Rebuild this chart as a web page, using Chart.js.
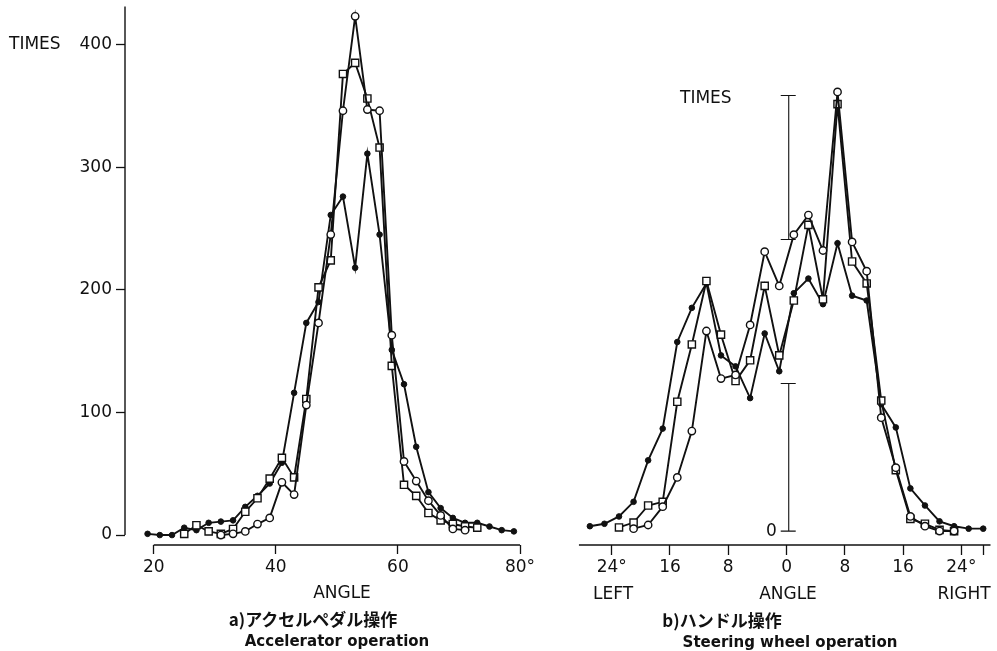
<!DOCTYPE html>
<html>
<head>
<meta charset="utf-8">
<script src="https://cdn.jsdelivr.net/npm/chart.js@4.4.0/dist/chart.umd.min.js"></script>
<style>
  body { margin: 0; background: #fff; }
  #wrap { position: relative; width: 997px; height: 651px; overflow: hidden; font-family: 'DejaVu Sans', sans-serif; color: #111; }
  canvas { position: absolute; top: 0; }
  #accel { left: 0; }
  #steer { left: 560px; }
  .t { position: absolute; white-space: nowrap; line-height: 20px; height: 20px; font-size: 17px; }
  .c { transform: translateX(-50%); }
  .jp { font-family: 'Noto Sans CJK JP', sans-serif; font-weight: 700; font-size: 17px; }
  .en { font-weight: 700; font-size: 15px; }
</style>
</head>
<body>
<div id="wrap">
  <canvas id="accel" width="542" height="651"></canvas>
  <canvas id="steer" width="437" height="651"></canvas>

  <div class="t" style="left:9px; top:33px;">TIMES</div>
  <div class="t c" style="left:342px; top:582px;">ANGLE</div>
  <div class="t c jp" style="left:313px; top:609px;">a)アクセルペダル操作</div>
  <div class="t c en" style="left:337px; top:631px;">Accelerator operation</div>

  <div class="t" style="left:680px; top:87px;">TIMES</div>
  <div class="t c" style="left:613px; top:583px;">LEFT</div>
  <div class="t c" style="left:788px; top:583px;">ANGLE</div>
  <div class="t c" style="left:964px; top:583px;">RIGHT</div>
  <div class="t c jp" style="left:722px; top:610px;">b)ハンドル操作</div>
  <div class="t c en" style="left:790px; top:632px;">Steering wheel operation</div>
</div>

<script>
// a) accelerator pedal, angle in degrees
const accelAngle = [19,21,23,25,27,29,31,33,35,37,39,41,43,45,47,49,51,53,55,57,59,61,63,65,67,69,71,73,75,77,79];
const accelDots = [1,0,0,6,4,10,11,12,23,32,42,59,116,173,190,261,276,218,311,245,151,123,72,35,22,14,10,10,7,4,3];
const accelRings = [null,null,null,null,null,null,0,1,3,9,14,43,33,106,173,245,346,423,347,346,163,60,44,28,16,5,4,null,null,null,null];
const accelSquares = [null,null,null,1,8,3,1,5,19,30,46,63,47,111,202,224,376,385,356,316,138,41,32,18,12,9,7,6,null,null,null];
const accelTicksX = [20,40,60,80];
const accelTicksY = [0,100,200,300,400];

// b) steering wheel, negative = left
const steerAngle = [-27,-25,-23,-21,-19,-17,-15,-13,-11,-9,-7,-5,-3,-1,1,3,5,7,9,11,13,15,17,19,21,23,25,27];
const steerDots = [4,6,12,24,58,84,155,183,203,144,135,109,162,131,195,207,186,236,193,189,104,85,35,21,8,4,2,2];
const steerRings = [null,null,null,2,5,20,44,82,164,125,128,169,229,201,243,259,230,360,237,213,93,52,12,4,0,0,null,null];
const steerSquares = [null,null,3,7,21,24,106,153,205,161,123,140,201,144,189,251,190,350,221,203,107,50,10,6,1,0,null,null];
const steerTicksX = [-24,-16,-8,0,8,16,24,27];

const INK = '#111';

function pts(xs, ys) {
    return xs.map((x, i) => ({ x, y: ys[i] }));
}

function makeSets(xs, dots, rings, squares) {
    const base = { borderColor: INK, borderWidth: 1.9, tension: 0, pointBorderColor: INK };
    return [
        { ...base, data: pts(xs, rings), pointStyle: 'circle', pointRadius: 3.7, pointBackgroundColor: '#fff', pointBorderWidth: 1.4 },
        { ...base, data: pts(xs, squares), pointStyle: 'rect', pointRadius: 5.1, pointBackgroundColor: '#fff', pointBorderWidth: 1.4 },
        { ...base, data: pts(xs, dots), pointStyle: 'circle', pointRadius: 2.8, pointBackgroundColor: INK, pointBorderWidth: 1 }
    ];
}

const tickFont = { family: 'DejaVu Sans', size: 17 };

// keep chart area where the figure has it (no label overhang padding)
function noPad(s) {
    s.paddingTop = 0;
    s.paddingBottom = 0;
}

// detached axis lines like the printed figure
const accelAxes = {
    id: 'accelAxes',
    afterDraw(chart) {
        const { ctx, chartArea, scales: { x, y } } = chart;
        ctx.save();
        ctx.strokeStyle = INK;
        ctx.lineWidth = 1.4;
        ctx.beginPath();
        ctx.moveTo(chartArea.left, y.getPixelForValue(0));
        ctx.lineTo(chartArea.left, chartArea.top);
        ctx.moveTo(x.getPixelForValue(accelTicksX[0]), chartArea.bottom);
        ctx.lineTo(x.getPixelForValue(accelTicksX[accelTicksX.length - 1]), chartArea.bottom);
        ctx.stroke();
        ctx.restore();
    }
};

const steerAxes = {
    id: 'steerAxes',
    afterDraw(chart) {
        const { ctx, chartArea, scales: { x, y } } = chart;
        ctx.save();
        ctx.strokeStyle = INK;
        ctx.lineWidth = 1.4;
        ctx.beginPath();
        ctx.moveTo(x.getPixelForValue(-28.5), chartArea.bottom);
        ctx.lineTo(chartArea.right, chartArea.bottom);
        ctx.stroke();

        // broken "TIMES" scale bar
        const xb = x.getPixelForValue(0.3);
        ctx.lineWidth = 1.1;
        [[0, 121], [239, 357]].forEach(seg => {
            const y0 = y.getPixelForValue(seg[0]);
            const y1 = y.getPixelForValue(seg[1]);
            ctx.beginPath();
            ctx.moveTo(xb, y0); ctx.lineTo(xb, y1);
            ctx.moveTo(xb - 8, y0); ctx.lineTo(xb + 7, y0);
            ctx.moveTo(xb - 8, y1); ctx.lineTo(xb + 7, y1);
            ctx.stroke();
        });
        ctx.fillStyle = INK;
        ctx.font = '17px "DejaVu Sans"';
        ctx.textAlign = 'right';
        ctx.textBaseline = 'middle';
        ctx.fillText('0', xb - 12, y.getPixelForValue(0));
        ctx.restore();
    }
};

new Chart(document.getElementById('accel'), {
    type: 'line',
    data: { datasets: makeSets(accelAngle, accelDots, accelRings, accelSquares) },
    options: {
        responsive: false,
        animation: false,
        layout: { padding: { left: 0, right: 22, top: 5, bottom: 0 } },
        plugins: { legend: { display: false }, tooltip: { enabled: false } },
        scales: {
            x: {
                type: 'linear', min: 15.3, max: 80,
                afterBuildTicks: s => { s.ticks = accelTicksX.map(v => ({ value: v })); },
                afterFit: s => { s.height = 106; },
                border: { display: false },
                grid: { drawOnChartArea: false, drawTicks: true, tickLength: 9, tickColor: INK, tickWidth: 1.3 },
                ticks: { color: INK, font: tickFont, padding: 3, maxRotation: 0, callback: v => v === 80 ? '80°' : String(v) }
            },
            y: {
                type: 'linear', min: -8.1, max: 431,
                afterBuildTicks: s => { s.ticks = accelTicksY.map(v => ({ value: v })); },
                afterFit: s => { s.width = 125; noPad(s); },
                border: { display: false },
                grid: { drawOnChartArea: false, drawTicks: true, tickLength: 9, tickColor: INK, tickWidth: 1.3 },
                ticks: { color: INK, font: tickFont, padding: 4 }
            }
        }
    },
    plugins: [accelAxes]
});

new Chart(document.getElementById('steer'), {
    type: 'line',
    data: { datasets: makeSets(steerAngle, steerDots, steerRings, steerSquares) },
    options: {
        responsive: false,
        animation: false,
        layout: { padding: { left: 15.3, right: 6.2, top: 2.1, bottom: 0 } },
        plugins: { legend: { display: false }, tooltip: { enabled: false } },
        scales: {
            x: {
                type: 'linear', min: -29, max: 28,
                afterBuildTicks: s => { s.ticks = steerTicksX.map(v => ({ value: v })); },
                afterFit: s => { s.height = 106; },
                border: { display: false },
                grid: { drawOnChartArea: false, drawTicks: true, tickLength: 10, tickColor: INK, tickWidth: 1.3 },
                ticks: {
                    color: INK, font: tickFont, padding: 2, maxRotation: 0, autoSkip: false,
                    callback: v => v === 27 ? '' : (Math.abs(v) === 24 ? '24°' : String(Math.abs(v)))
                }
            },
            y: {
                type: 'linear', min: -11.4, max: 430, display: false
            }
        }
    },
    plugins: [steerAxes]
});
</script>
</body>
</html>
